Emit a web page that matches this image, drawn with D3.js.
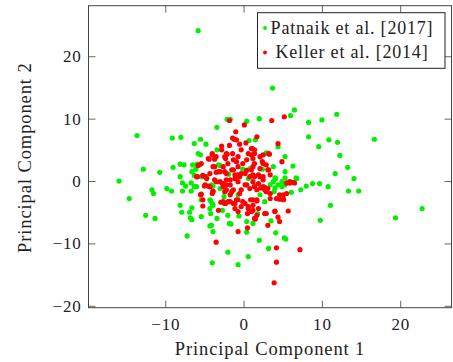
<!DOCTYPE html>
<html>
<head>
<meta charset="utf-8">
<style>
  body { margin: 0; background: #fff; }
  text { font-family: "Liberation Serif", "Times New Roman", serif; fill: #222; }
</style>
</head>
<body>
<script src="https://d3js.org/d3.v7.min.js"></script>
<script>
var width = 453, height = 362;

// tick values
var xTicks = [-10, 0, 10, 20];
var yTicks = [-20, -10, 0, 10, 20];

var seriesNames = ["Patnaik et al. [2017]", "Keller et al. [2014]"];

// Patnaik et al. [2017] (green)
var patnaik = [
  [-5.8,24.1],[3.7,14.9],[6.5,11.4],[6.0,10.5],[11.9,10.7],[10.0,9.8],[8.3,9.4],[2.0,10.0],[0.4,9.6],[-2.1,9.9],
  [-1.7,9.9],[8.3,7.1],[10.9,6.6],[12.0,6.2],[16.7,6.7],[9.6,5.5],[12.3,4.1],[13.3,2.2],[11.7,1.2],[14.1,0.4],
  [5.3,3.9],[6.3,2.4],[5.3,1.5],[6.7,0.5],[4.4,5.5],[4.0,0.5],[3.8,2.3],[0.7,6.5],[1.5,6.6],[2.9,4.5],
  [2.4,1.9],[0.8,2.0],[13.4,-1.6],[14.7,-1.6],[22.8,-4.4],[19.4,-5.9],[11.1,-3.9],[9.8,-6.3],[10.8,-0.9],[9.7,-0.4],
  [8.8,-0.4],[8.0,-0.8],[7.3,-1.4],[6.1,-1.8],[5.3,-0.6],[4.9,-0.9],[4.4,-0.6],[4.9,-0.1],[4.1,0.4],[3.4,-0.6],
  [3.9,-1.7],[5.3,0.5],[6.8,0.4],[4.0,-1.1],[3.8,-0.1],[1.4,-0.6],[2.7,-3.3],[2.1,-2.2],[4.1,-8.3],[3.5,-6.4],
  [1.2,-6.8],[-1.6,-6.9],[0.4,-8.2],[5.2,-9.1],[5.4,-9.3],[2.0,-9.5],[3.2,-10.8],[0.6,-12.1],[-2.0,-11.4],[-0.7,-13.4],
  [1.8,-5.2],[-0.6,-5.6],[-2.7,-4.7],[-2.5,-2.5],[-0.7,-2.2],[0.4,-6.5],[-13.6,7.3],[-9.1,6.9],[-8.0,7.0],[-5.5,6.7],
  [-6.3,6.0],[-4.8,5.9],[-3.4,8.6],[-5.8,4.4],[-5.5,4.2],[-3.4,5.0],[-12.8,1.9],[-10.7,1.4],[-9.0,2.2],[-8.1,2.7],
  [-7.6,2.6],[-6.5,2.6],[-8.1,0.7],[-5.9,2.7],[-6.6,1.5],[-6.1,1.9],[-3.0,2.5],[-5.6,2.6],[-3.2,2.6],[-1.9,1.1],
  [-0.1,1.9],[-5.4,0.7],[-6.3,0.9],[-15.9,0.0],[-14.6,-2.8],[-11.7,-1.4],[-11.5,-2.0],[-12.5,-5.5],[-11.3,-6.0],[-9.8,-1.2],
  [-9.2,-1.6],[-7.8,-0.3],[-7.4,-0.8],[-7.8,-1.6],[-6.7,-0.3],[-6.3,-0.9],[-6.7,-1.6],[-8.1,-3.9],[-7.9,-5.0],[-6.9,-5.0],
  [-6.6,-4.3],[-6.8,-5.9],[-6.6,-6.2],[-7.2,-8.8],[-4.3,-7.2],[-3.9,-8.1],[-4.2,-5.2],[-4.2,-3.2],[-4.0,-3.6],[-3.9,-3.9],
  [-3.4,-6.0],[-5.4,-3.0],[-4.0,-13.1],[-4.7,0.7],[-3.9,-0.8],[-3.0,-1.2],[-1.8,-6.8],[-6.0,-0.9],[-4.1,-0.6],[-4.3,-3.0],
  [-4.3,-4.4],[-5.4,-5.7],[-2.0,-5.5],[-4.1,-7.1],[0.6,0.4],[-1.0,0.5]
];

// Keller et al. [2014] (red)
var keller = [
  [3.6,9.7],[5.2,10.3],[0.1,9.0],[-1.8,9.7],[-1.0,7.9],[1.7,7.1],[-1.4,6.9],[-0.9,6.6],[0.3,6.1],[4.4,6.0],
  [-2.8,5.6],[-1.8,5.7],[1.1,5.2],[-0.5,5.9],[-0.3,5.0],[3.3,4.3],[1.4,4.4],[4.9,3.1],[2.4,3.1],[2.9,2.6],
  [2.1,2.0],[3.2,1.8],[1.2,2.3],[0.4,1.7],[-2.4,3.9],[-2.0,2.8],[-1.3,3.4],[-0.7,3.9],[-2.6,2.3],[-1.5,1.8],
  [-0.7,2.3],[-0.3,1.2],[-1.1,1.0],[-2.2,1.2],[0.8,0.7],[2.5,0.7],[3.4,1.0],[-4.0,4.2],[-4.4,3.5],[-3.5,3.9],
  [-2.2,4.4],[-2.3,3.6],[-3.9,2.3],[-3.5,1.4],[-3.0,1.5],[-6.0,0.7],[-5.2,0.9],[-5.8,2.5],[-1.2,6.7],[0.6,4.4],
  [-1.4,4.4],[-2.1,4.3],[-2.8,5.0],[-3.7,3.5],[-4.5,3.6],[-4.0,4.4],[-5.4,2.8],[-0.9,3.1],[-0.1,2.8],[0.4,3.4],
  [1.0,1.8],[-1.3,1.8],[-2.4,1.5],[-3.2,1.5],[-3.7,2.3],[-0.7,1.0],[0.2,1.2],[-4.3,1.2],[1.0,5.2],[1.4,5.0],
  [1.0,4.2],[1.2,3.6],[2.5,4.2],[3.2,4.4],[2.1,3.9],[2.5,2.8],[1.4,2.8],[3.1,1.8],[1.9,1.0],[-5.5,-2.2],
  [-5.2,-4.0],[-4.0,-2.0],[-3.2,-4.7],[-3.5,-9.8],[-2.9,-3.4],[-2.3,-3.6],[-5.0,-0.8],[-4.5,-0.8],[-5.9,0.7],[-4.9,0.7],
  [-2.7,-0.4],[-3.5,-0.1],[-2.2,-0.6],[-3.9,-1.6],[3.9,-16.3],[4.2,-13.0],[4.2,-10.7],[7.2,-11.0],[-0.7,-8.1],[0.5,-7.5],
  [3.1,-7.1],[4.4,-5.8],[4.0,-4.9],[2.9,-5.2],[1.5,-6.1],[5.7,-4.8],[5.5,-0.3],[5.9,-0.3],[6.5,-0.3],[5.1,-2.9],
  [4.6,-2.9],[5.1,-2.2],[2.2,-1.1],[2.7,-1.0],[2.9,-1.7],[1.4,-0.9],[0.9,-3.0],[1.7,-3.0],[0.2,-3.6],[-0.3,-4.1],
  [0.6,-4.4],[1.2,-4.7],[-1.1,-3.6],[-1.7,-3.3],[-2.4,-3.6],[-0.7,-4.9],[-0.9,-3.0],[2.5,0.2],[1.2,1.0],[-0.5,0.7],
  [-1.7,0.2],[-2.6,-0.4],[-1.3,-1.4],[-2.2,-1.4],[-0.5,-2.0],[-1.7,-2.2],[0.2,-0.6],[-4.7,0.4],[-3.7,0.2],[-3.0,-0.1],
  [-2.2,0.2],[-1.1,0.4],[-0.7,-0.1],[-1.7,-0.6],[-2.6,-0.9],[-4.3,-0.9],[-4.9,-0.6],[-3.9,-1.7],[-2.4,-1.7],[-1.5,-1.7],
  [-0.3,-1.4],[0.4,-0.6],[-2.6,-3.3],[-2.0,-3.3],[-1.3,-3.6],[-0.7,-3.0],[-0.1,-3.3],[0.6,-4.1],[-1.1,-4.4],[0.5,-5.2],
  [-5.4,-2.1],[-5.2,-3.0],[1.4,0.7],[2.1,0.7],[1.2,-0.1],[1.9,-0.4],[0.8,-1.2],[1.7,-1.4],[2.5,-0.9],[2.7,-1.4],
  [3.1,-1.2],[3.4,-2.0],[3.4,-2.8],[4.2,-2.8],[4.6,-2.2],[5.5,-2.0],[5.1,-3.0],[5.9,-0.1],[6.3,-0.2],[1.2,-3.0],
  [1.7,-3.2],[1.2,-3.9],[1.9,-4.4],[1.0,-4.9],[1.7,-5.5],[1.4,-6.0],[2.7,-5.2],[4.0,-4.8],[4.6,-6.5]
];

var colors = ["#00f000", "#ff0000"];

var svg = d3.select('body').append('svg').attr('width', width).attr('height', height);

var plotLeft = 88.5, plotRight = 451.5, plotTop = 5.7, plotBottom = 307.7;

var x = d3.scaleLinear().domain([-19.8, 26.55]).range([plotLeft, plotRight]);
var y = d3.scaleLinear().domain([-20.3, 28.1]).range([plotBottom, plotTop]);

var tickLen = 7;

// points: green first, red on top
[patnaik, keller].forEach(function (data, i) {
    svg.append('g').selectAll('circle')
        .data(data)
        .join('circle')
        .attr('cx', function (d) { return x(d[0]); })
        .attr('cy', function (d) { return y(d[1]); })
        .attr('r', 2.6)
        .attr('fill', colors[i]);
});

// axes with inward ticks
svg.append('g').attr('class', 'ax').attr('transform', 'translate(0,' + plotBottom + ')')
    .call(d3.axisBottom(x).tickValues(xTicks).tickSize(-tickLen).tickPadding(10));
svg.append('g').attr('class', 'ax').attr('transform', 'translate(0,' + plotTop + ')')
    .call(d3.axisTop(x).tickValues(xTicks).tickSize(-tickLen).tickFormat(''));
svg.append('g').attr('class', 'ax').attr('transform', 'translate(' + plotLeft + ',0)')
    .call(d3.axisLeft(y).tickValues(yTicks).tickSize(-tickLen).tickPadding(7));
svg.append('g').attr('class', 'ax').attr('transform', 'translate(' + plotRight + ',0)')
    .call(d3.axisRight(y).tickValues(yTicks).tickSize(-tickLen).tickFormat(''));

svg.selectAll('.ax').attr('font-family', '"Liberation Serif", serif').attr('font-size', 17);
svg.selectAll('.domain').remove();
svg.selectAll('.tick line').attr('stroke', '#555').attr('stroke-width', 0.9);
svg.selectAll('.tick text')
    .style('letter-spacing', '0.8px')
    .attr('fill', '#222');

// frame
svg.append('rect')
    .attr('x', plotLeft).attr('y', plotTop)
    .attr('width', plotRight - plotLeft).attr('height', plotBottom - plotTop)
    .attr('fill', 'none').attr('stroke', '#444').attr('stroke-width', 1);

// axis labels
svg.append('text')
    .attr('x', (plotLeft + plotRight) / 2).attr('y', 355)
    .attr('text-anchor', 'middle')
    .style('font-size', '18.5px')
    .style('letter-spacing', '0.9px')
    .text('Principal Component 1');

svg.append('text')
    .attr('transform', 'translate(31,' + ((plotTop + plotBottom) / 2 + 1) + ') rotate(-90)')
    .attr('text-anchor', 'middle')
    .style('font-size', '18.5px')
    .style('letter-spacing', '0.9px')
    .text('Principal Component 2');

// legend
var lg = svg.append('g');
lg.append('rect')
    .attr('x', 257.5).attr('y', 12.7)
    .attr('width', 187.5).attr('height', 55.6)
    .attr('fill', '#fff').attr('stroke', '#222').attr('stroke-width', 1);

seriesNames.forEach(function (name, i) {
    var cy = 28 + i * 24.5;
    lg.append('circle')
        .attr('cx', 265).attr('cy', cy)
        .attr('r', 1.9).attr('fill', colors[i]);
    lg.append('text')
        .attr('x', 352).attr('y', cy + 5.5)
        .attr('text-anchor', 'middle')
        .style('font-size', '18px')
        .style('letter-spacing', '0.8px')
        .text(name);
});
</script>
</body>
</html>
